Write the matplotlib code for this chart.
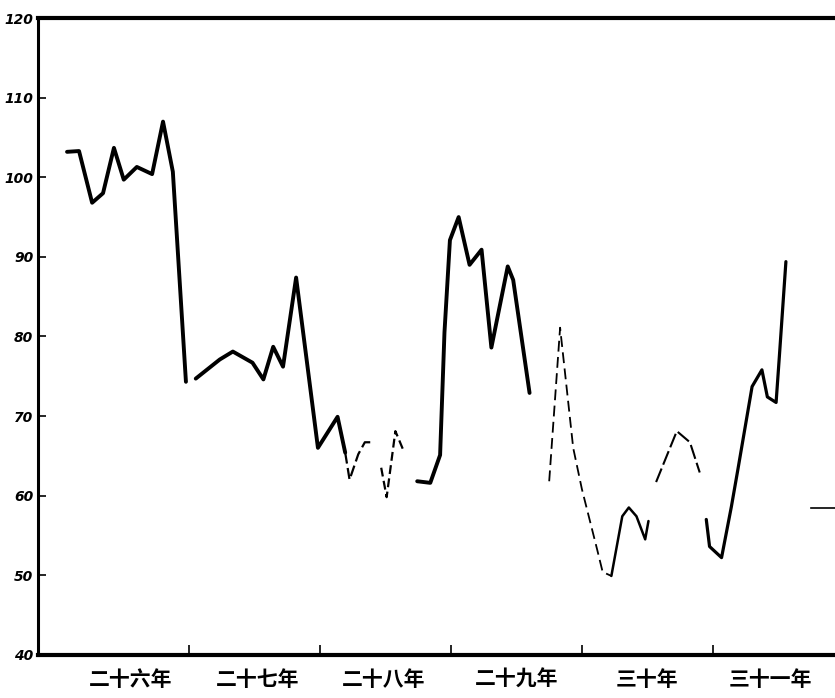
import numpy as np
import matplotlib.pyplot as plt

plt.rcParams['font.family'] = ['Noto Sans CJK SC', 'DejaVu Sans']

# month counted from the start of 民国二十六年; nan marks a break in the printed line
months = [0.8, 1.9, 3.1, 4.1, 5.1, 6.0, 7.2, 8.6, 9.6, 10.5, 11.7, np.nan,
          12.6, 14.8, 16.0, 17.8, 18.8, 19.7, 20.6, 21.8, 23.8, 25.6, 26.3, np.nan,
          26.3, 26.7, 27.5, 28.1, 28.8, np.nan,
          29.6, 30.1, 30.9, 31.6, np.nan,
          32.9, 34.1, 35.0, 35.4, 35.9, 36.7, 37.7, 38.8, 39.7, 41.2, 41.7, 43.2, np.nan,
          45.0, 46.0, 47.2, 48.0, 49.4, 49.9, 50.7, np.nan,
          50.7, 51.1, 51.7, 52.3, 53.0, 53.8, 54.1, np.nan,
          54.8, 56.7, 57.9, 58.8, np.nan,
          59.4, 59.7, 60.8, 61.7, 62.3, 63.6, 64.5, 65.0, 65.8, 66.1, 66.7]
index = [103.2, 103.3, 96.8, 98.0, 103.7, 99.7, 101.3, 100.4, 107.0, 100.7, 74.3, np.nan,
         74.7, 77.1, 78.1, 76.7, 74.6, 78.7, 76.2, 87.4, 66.0, 69.9, 65.4, np.nan,
         65.4, 62.0, 65.2, 66.7, 66.7, np.nan,
         63.5, 59.8, 68.1, 65.8, np.nan,
         61.8, 61.6, 65.1, 80.5, 92.1, 95.0, 89.0, 90.9, 78.6, 88.8, 87.1, 72.9, np.nan,
         61.8, 81.1, 66.0, 60.8, 53.2, 50.4, 49.9, np.nan,
         49.9, 52.9, 57.4, 58.5, 57.4, 54.5, 56.8, np.nan,
         61.7, 68.1, 66.7, 62.9, np.nan,
         57.0, 53.6, 52.2, 58.6, 63.3, 73.7, 75.8, 72.4, 71.7, 77.5, 89.4]
seg_width = [2.8, 2.8, 1.6, 1.6, 2.8, 1.3, 1.8, 1.5, 2.3]
seg_dash = [None, None, (0, (5, 2)), (0, (4, 2)), None, (0, (6, 3)), None, (0, (7, 2)), None]

years = ['二十六年', '二十七年', '二十八年', '二十九年', '三十年', '三十一年']
y_ticks = [40, 50, 60, 70, 80, 90, 100, 110, 120]

# short stroke cut off at the right edge
edge_x = [69.0, 71.2]
edge_y = [58.5, 58.5]

fig = plt.figure(figsize=(8.35, 6.98), dpi=100)
ax = fig.add_axes([0.045, 0.062, 0.955, 0.912])

m = np.array(months)
v = np.array(index)
breaks = np.where(np.isnan(m))[0]
starts = np.r_[0, breaks + 1]
ends = np.r_[breaks, len(m)]
for i, (s, e) in enumerate(zip(starts, ends)):
    kw = dict(color='black', lw=seg_width[i], solid_joinstyle='round',
              solid_capstyle='round')
    if seg_dash[i] is not None:
        kw['linestyle'] = seg_dash[i]
    ax.plot(m[s:e], v[s:e], **kw)
ax.plot(edge_x, edge_y, color='black', lw=1.2)

ax.set_xlim(-1.9, 71.2)
ax.set_ylim(40, 120)
ax.spines['right'].set_visible(False)
ax.spines['left'].set_linewidth(2.2)
ax.spines['top'].set_linewidth(3.0)
ax.spines['bottom'].set_linewidth(3.0)

ax.set_yticks(y_ticks)
ax.set_yticklabels([str(t) for t in y_ticks], fontsize=10, fontweight='bold',
                   fontstyle='italic', family='DejaVu Sans')
ax.tick_params(axis='y', direction='in', length=6, width=1.2, pad=3)

ax.set_xticks([12, 24, 36, 48, 60])
ax.set_xticklabels([])
ax.set_xticks([6.6, 18.3, 29.8, 42, 54, 65.3], minor=True)
ax.set_xticklabels(years, minor=True, fontsize=15, fontweight='bold')
ax.tick_params(axis='x', which='major', direction='in', length=7, width=1.2)
ax.tick_params(axis='x', which='minor', length=0, pad=10)

fig.savefig('out.png', dpi=100)
